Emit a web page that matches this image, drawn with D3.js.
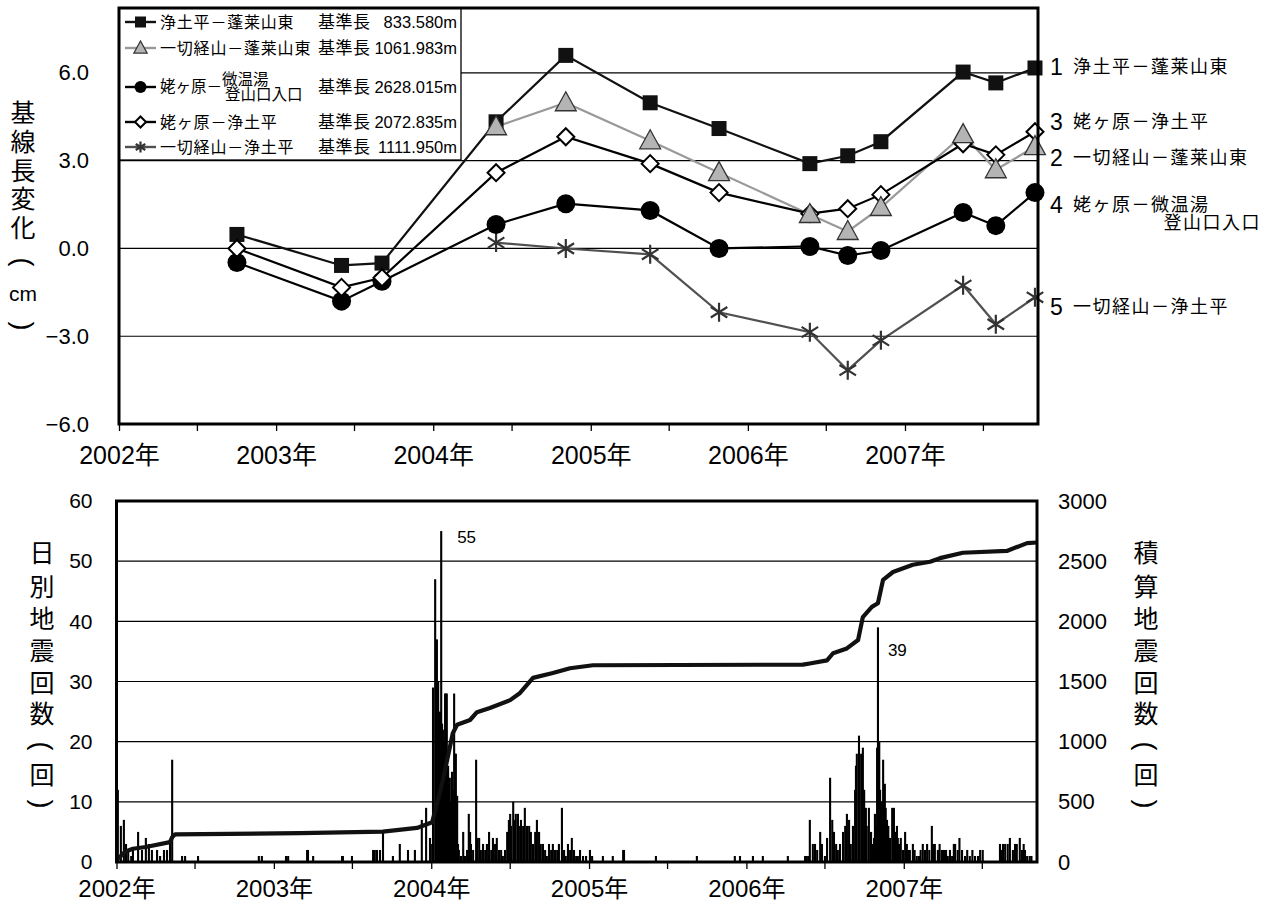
<!DOCTYPE html>
<html><head><meta charset="utf-8">
<script src="https://cdn.jsdelivr.net/npm/d3@7"></script>
<style>
body{margin:0;background:#fff}
svg{display:block}
text{font-family:"Liberation Sans","Noto Sans CJK JP",sans-serif;fill:#000}
</style>
</head><body>
<svg id="c" width="1275" height="908"></svg>
<script>
// ---------------- DATA ----------------
// GPS survey dates (top chart)
const surveyDates = ["2002-10-02","2003-06-02","2003-09-04","2004-05-26","2004-11-04","2005-05-19","2005-10-26","2006-05-25","2006-08-21","2006-11-06","2007-05-16","2007-07-31","2007-10-30"];
// baseline length change (cm)
const s1Values = [0.48,-0.58,-0.50,4.33,6.60,4.98,4.10,2.90,3.17,3.65,6.03,5.66,6.17];      // 浄土平－蓬莱山東
const s2Values = [null,null,null,4.16,4.98,3.68,2.59,1.16,0.58,1.40,3.89,2.69,3.48];         // 一切経山－蓬莱山東
const s3Values = [-0.48,-1.80,-1.12,0.82,1.53,1.30,0.00,0.07,-0.24,-0.07,1.23,0.78,1.91];   // 姥ヶ原－微温湯登山口入口
const s4Values = [0.00,-1.33,-1.00,2.59,3.82,2.90,1.91,1.19,1.36,1.84,3.58,3.20,3.99];      // 姥ヶ原－浄土平
const s5Values = [null,null,null,0.20,0.00,-0.20,-2.18,-2.86,-4.16,-3.14,-1.26,-2.59,-1.67]; // 一切経山－浄土平

const seriesNames = ["浄土平－蓬莱山東","一切経山－蓬莱山東","姥ヶ原－微温湯登山口入口","姥ヶ原－浄土平","一切経山－浄土平"];
const baselineLengths = ["833.580m","1061.983m","2628.015m","2072.835m","1111.950m"];

const topYTicks = [-6,-3,0,3,6];
const topGridValues = [6,3,0,-3];
const botLeftTicks = [0,10,20,30,40,50,60];
const botRightTicks = [0,500,1000,1500,2000,2500,3000];
const botGridValues = [10,20,30,40,50];

const topTitle = ["基","線","長","変","化","(","cm",")"];
const botLeftTitle = ["日","別","地","震","回","数","(","回",")"];
const botRightTitle = ["積","算","地","震","回","数","(","回",")"];

// daily earthquake counts: day index since 2002-01-01, count
const quakeDay = [3,10,17,22,27,34,38,50,59,68,75,82,94,101,110,117,124,129,152,159,189,330,337,393,398,442,444,456,523,525,546,595,599,604,611,618,641,657,676,692,708,718,727,
729,734,739,741,743,746,748,750,753,755,757,759,762,764,766,769,771,773,776,778,780,783,785,787,790,792,794,799,804,808,813,817,820,822,827,834,836,841,845,850,855,859,864,869,873,878,882,887,892,896,901,906,910,913,915,920,922,926,931,936,938,943,947,952,957,961,966,971,975,980,984,989,994,998,1003,1008,1012,1017,1022,1026,1033,1038,1042,1047,1052,1056,1061,1066,1070,1075,1082,1089,1098,1103,1128,1151,1175,1177,1251,1346,1434,1446,1476,1499,1557,
1597,1599,1604,1608,1615,1620,1625,1632,1636,1643,1648,1655,1660,1664,1669,1673,1678,1685,1690,1694,1699,1703,1708,1713,1715,1717,1722,1727,1731,1734,1738,1740,1745,1750,1754,1757,1759,1761,1764,1766,1769,1771,1773,1775,1778,1782,1784,1787,1790,1794,1799,1803,1806,1810,1812,1815,1819,1824,1829,1833,1836,1840,1847,1851,1856,1861,1865,1870,1875,1880,1885,1891,1894,1898,1905,1909,1914,1917,1921,1924,1928,1933,1938,1942,1945,1951,1955,1961,1968,1973,1979,1985,1991,1998,2003,2009,2049,2053,2056,2061,2067,2072,2079,2084,2088,2095,2100,2104,2107,2112,2118,2122,2125];
const quakeCount = [12,6,7,3,2,1,2,5,2,4,3,2,2,1,2,2,3,17,1,1,1,1,1,1,1,2,2,1,1,1,1,2,2,2,2,5,1,3,2,2,7,9,4,
3,29,47,35,37,30,23,25,55,23,22,20,28,28,28,16,12,14,10,15,12,28,18,18,11,3,2,1,5,1,2,8,5,3,2,17,4,4,2,3,2,3,5,2,4,3,4,2,2,1,2,5,7,8,6,10,7,8,8,6,7,6,9,6,6,5,3,5,7,5,3,3,2,1,3,2,3,2,2,3,9,2,1,3,2,4,2,1,1,2,1,1,2,1,1,1,2,2,1,1,1,1,1,1,1,
1,1,1,7,3,3,2,5,3,1,4,14,7,5,3,2,3,5,6,8,7,3,6,12,16,18,21,18,19,12,9,6,9,5,3,4,8,6,19,39,20,12,9,10,17,13,9,7,6,4,9,9,5,6,4,3,4,2,5,3,2,2,3,2,1,1,2,3,2,3,2,6,3,3,2,3,2,2,2,2,1,2,1,3,3,2,4,2,1,2,1,2,1,1,2,2,3,2,3,3,3,4,2,3,3,4,2,3,2,1,1,1];

// cumulative count line: day index since 2002-01-01, cumulative count
const cumDay = [0,20,38,68,124,129,136,426,618,697,732,741,757,780,790,820,836,866,913,936,966,1012,1052,1105,1592,1608,1648,1662,1694,1720,1731,1752,1766,1778,1801,1847,1887,1910,1963,2065,2112,2135];
const cumCount = [15,85,110,125,165,205,230,240,252,283,330,450,680,1070,1140,1180,1245,1280,1345,1405,1530,1570,1610,1635,1640,1650,1675,1735,1775,1845,2035,2120,2150,2345,2410,2470,2495,2525,2570,2585,2650,2655];

const peakLabels = [{day:753, value:55}, {day:1766, value:39}];

// ---------------- LAYOUT ----------------
const svg = d3.select("#c");
svg.append("rect").attr("width",1275).attr("height",908).attr("fill","#fff");
const parse = d3.timeParse("%Y-%m-%d");
const base = new Date(2002,0,1);
const endDate = d3.timeDay.offset(base, 2135);
const dayToDate = d => d3.timeDay.offset(base, d);

const TOP = {l:119, r:1038, t:8, b:424};
const BOT = {l:116.5, r:1037, t:501, b:862};

const xTop = d3.scaleTime().domain([base,endDate]).range([TOP.l,TOP.r]);
const yTop = d3.scaleLinear().domain([-6,8.22]).range([TOP.b,TOP.t]);
const xBot = d3.scaleTime().domain([base,endDate]).range([BOT.l,BOT.r]);
const yCnt = d3.scaleLinear().domain([0,60]).range([BOT.b,BOT.t]);
const yCum = d3.scaleLinear().domain([0,3000]).range([BOT.b,BOT.t]);

const halfYears = d3.timeMonth.every(6).range(base, endDate);
const yearFmt = d => d.getMonth()===0 ? d.getFullYear()+"年" : "";

function marker(g, type, x, y, s){
  if(type==="square"){
    g.append("rect").attr("x",x-s/2).attr("y",y-s/2).attr("width",s).attr("height",s).attr("fill","#111");
  } else if(type==="triangle"){
    g.append("path").attr("d",`M${x},${y-s*0.58}L${x+s*0.55},${y+s*0.42}L${x-s*0.55},${y+s*0.42}Z`)
      .attr("fill","#b4b4b4").attr("stroke","#333").attr("stroke-width",1.3);
  } else if(type==="circle"){
    g.append("circle").attr("cx",x).attr("cy",y).attr("r",s/2).attr("fill","#000");
  } else if(type==="diamond"){
    const h=s/2;
    g.append("path").attr("d",`M${x},${y-h}L${x+h},${y}L${x},${y+h}L${x-h},${y}Z`)
      .attr("fill","#fff").attr("stroke","#000").attr("stroke-width",2);
  } else if(type==="asterisk"){
    const h=s/2, a=h*0.87, b=h*0.55;
    g.append("path").attr("d",`M${x},${y-h}L${x},${y+h}M${x-a},${y-b}L${x+a},${y+b}M${x-a},${y+b}L${x+a},${y-b}`)
      .attr("stroke","#333").attr("stroke-width",2.2).attr("fill","none");
  }
}

// vertical title helper: brackets are turned a quarter to read in vertical writing
function vChar(g, c, x, y, size){
  const w = g.append("g").attr("transform", `translate(${x},${y})` + ((c==="("||c===")") ? " rotate(90)" : ""));
  w.append("text").attr("x",0).attr("y",0).attr("text-anchor","middle").attr("dy","0.35em")
    .attr("font-size", c==="cm"?21:((c==="("||c===")")?27:size))
    .attr("font-family", (c==="("||c===")") ? "Liberation Sans" : null).text(c);
}

// ================= TOP CHART =================
const gT = svg.append("g");
gT.selectAll("line.grid").data(topGridValues).join("line")
  .attr("x1",TOP.l).attr("x2",TOP.r).attr("y1",d=>yTop(d)).attr("y2",d=>yTop(d))
  .attr("stroke","#000").attr("stroke-width",1.2);

const series = [
  {vals:s1Values, color:"#111", marker:"square", size:15},
  {vals:s2Values, color:"#999", marker:"triangle", size:19},
  {vals:s3Values, color:"#000", marker:"circle", size:19},
  {vals:s4Values, color:"#000", marker:"diamond", size:17},
  {vals:s5Values, color:"#505050", marker:"asterisk", size:19}
];
series.forEach(s=>{
  s.pts = surveyDates.map((d,i)=>({date:parse(d), v:s.vals[i]})).filter(p=>p.v!==null);
});
const line = d3.line().x(p=>xTop(p.date)).y(p=>yTop(p.v));
const drawOrder = [4,1,0,2,3];
drawOrder.forEach(i=>{
  gT.append("path").attr("d",line(series[i].pts)).attr("fill","none")
    .attr("stroke",series[i].color).attr("stroke-width",2.2);
});
const markOrder = [4,0,2,3,1];
markOrder.forEach(i=>{
  const s=series[i];
  gT.append("g").selectAll("g").data(s.pts).join("g")
    .each(function(p){ marker(d3.select(this), s.marker, xTop(p.date), yTop(p.v), s.size); });
});

// legend
const lg = gT.append("g");
lg.append("rect").attr("x",TOP.l).attr("y",TOP.t).attr("width",342).attr("height",152)
  .attr("fill","#fff").attr("stroke","#000").attr("stroke-width",1.3);
const legY = [22,48,87,122,147];
series.forEach((s,i)=>{
  const y=legY[i];
  lg.append("line").attr("x1",125).attr("x2",156).attr("y1",y).attr("y2",y).attr("stroke",s.color).attr("stroke-width",2.4);
  marker(lg, s.marker, 140.5, y, s.marker==="circle"?12:(s.marker==="triangle"?12:11));
  if(i===2){
    lg.append("text").attr("x",160).attr("y",y).attr("dy","0.35em").attr("font-size",15.5).text("姥ヶ原－");
    lg.append("text").attr("x",222).attr("y",y-7).attr("dy","0.35em").attr("font-size",15.5).text("微温湯");
    lg.append("text").attr("x",225).attr("y",y+8).attr("dy","0.35em").attr("font-size",15.5).text("登山口入口");
  } else {
    lg.append("text").attr("x",160).attr("y",y).attr("dy","0.35em").attr("font-size",16).attr("letter-spacing",0.8).text(seriesNames[i]);
  }
  lg.append("text").attr("x",318).attr("y",y).attr("dy","0.35em").attr("font-size",17).attr("letter-spacing",0.5).text("基準長");
  lg.append("text").attr("x",457).attr("y",y).attr("dy","0.35em").attr("font-size",16.5).attr("text-anchor","end").text(baselineLengths[i]);
});

// frame
gT.append("rect").attr("x",TOP.l).attr("y",TOP.t).attr("width",TOP.r-TOP.l).attr("height",TOP.b-TOP.t)
  .attr("fill","none").attr("stroke","#000").attr("stroke-width",3);

// axes
const axTopX = gT.append("g").attr("transform",`translate(0,${TOP.b})`)
  .call(d3.axisBottom(xTop).tickValues(halfYears).tickSize(7).tickPadding(15).tickFormat(yearFmt));
axTopX.select(".domain").remove();
axTopX.selectAll("line").attr("stroke","#000").attr("stroke-width",1.3);
axTopX.selectAll("text").attr("font-size",25).attr("font-family",null);

const axTopY = gT.append("g").attr("transform",`translate(${TOP.l},0)`)
  .call(d3.axisLeft(yTop).tickValues(topYTicks).tickSize(0).tickPadding(30).tickFormat(d3.format(".1f")));
axTopY.select(".domain").remove();
axTopY.selectAll("text").attr("font-size",22).attr("font-family",null);

// top y title
const tYs = [113,142,171,199,228,262,294,326];
topTitle.forEach((c,i)=> vChar(gT, c, 23, tYs[i], 25));

// right labels
const rl = [
  {n:"1", t:seriesNames[0], y:67},
  {n:"3", t:seriesNames[3], y:122},
  {n:"2", t:seriesNames[1], y:158},
  {n:"4", t:"姥ヶ原－微温湯", y:205, t2:"登山口入口", y2:223},
  {n:"5", t:seriesNames[4], y:307}
];
rl.forEach(r=>{
  gT.append("text").attr("x",1050).attr("y",r.y).attr("dy","0.36em").attr("font-size",23).text(r.n);
  gT.append("text").attr("x",1073).attr("y",r.y).attr("dy","0.36em").attr("font-size",18).attr("letter-spacing",1.5).text(r.t);
  if(r.t2) gT.append("text").attr("x",1261).attr("y",r.y2).attr("dy","0.36em").attr("font-size",18).attr("letter-spacing",1.5).attr("text-anchor","end").text(r.t2);
});

// ================= BOTTOM CHART =================
const gB = svg.append("g");
gB.selectAll("line.grid").data(botGridValues).join("line")
  .attr("x1",BOT.l).attr("x2",BOT.r).attr("y1",d=>yCnt(d)).attr("y2",d=>yCnt(d))
  .attr("stroke","#000").attr("stroke-width",1.2);

gB.append("g").selectAll("rect").data(d3.zip(quakeDay, quakeCount)).join("rect")
  .attr("x",d=>xBot(dayToDate(d[0]))-1).attr("width",2.1)
  .attr("y",d=>yCnt(d[1])).attr("height",d=>BOT.b-yCnt(d[1])).attr("fill","#000");

const cumLine = d3.line().x(d=>xBot(dayToDate(d[0]))).y(d=>yCum(d[1]));
gB.append("path").attr("d",cumLine(d3.zip(cumDay,cumCount))).attr("fill","none")
  .attr("stroke","#111").attr("stroke-width",4.2).attr("stroke-linejoin","round");

gB.selectAll("text.peak").data(peakLabels).join("text")
  .attr("x",d=>xBot(dayToDate(d.day))+ (d.value>50?16:10)).attr("y",d=>yCnt(d.value>50?54:35.2))
  .attr("dy","0.36em").attr("font-size",17).attr("fill","#333").text(d=>d.value);

gB.append("rect").attr("x",BOT.l).attr("y",BOT.t).attr("width",BOT.r-BOT.l).attr("height",BOT.b-BOT.t)
  .attr("fill","none").attr("stroke","#000").attr("stroke-width",3);

const axBotX = gB.append("g").attr("transform",`translate(0,${BOT.b})`)
  .call(d3.axisBottom(xBot).tickValues(halfYears).tickSize(7).tickPadding(11).tickFormat(yearFmt));
axBotX.select(".domain").remove();
axBotX.selectAll("line").attr("stroke","#000").attr("stroke-width",1.3);
axBotX.selectAll("text").attr("font-size",24).attr("font-family",null);

const axBotL = gB.append("g").attr("transform",`translate(${BOT.l},0)`)
  .call(d3.axisLeft(yCnt).tickValues(botLeftTicks).tickSize(0).tickPadding(24).tickFormat(d3.format("d")));
axBotL.select(".domain").remove();
axBotL.selectAll("text").attr("font-size",21).attr("font-family",null);

const axBotR = gB.append("g").attr("transform",`translate(${BOT.r},0)`)
  .call(d3.axisRight(yCum).tickValues(botRightTicks).tickSize(0).tickPadding(21).tickFormat(d3.format("d")));
axBotR.select(".domain").remove();
axBotR.selectAll("text").attr("font-size",22).attr("font-family",null);

const bYs = [553,587,619,651,683,714,746,775,804];
botLeftTitle.forEach((c,i)=> vChar(gB, c, 42, bYs[i], 25));
botRightTitle.forEach((c,i)=> vChar(gB, c, 1146, bYs[i], 25));
</script>
</body></html>
